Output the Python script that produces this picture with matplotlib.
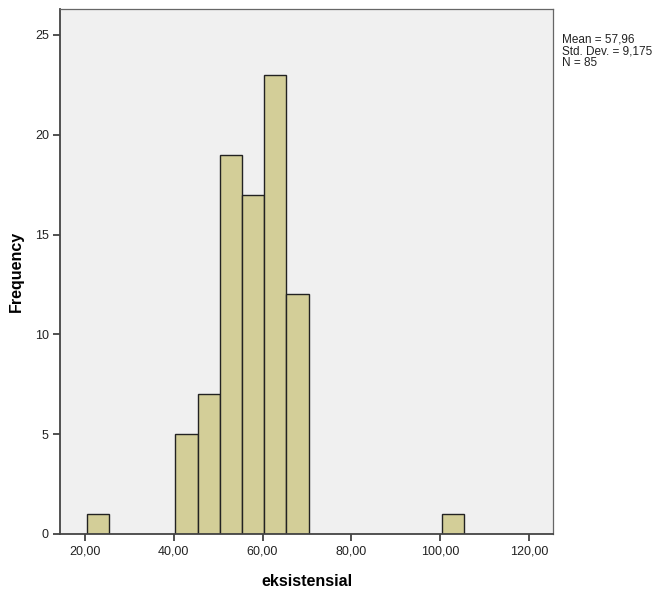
import matplotlib.pyplot as plt
import numpy as np

plt.rcParams['font.family'] = ['Liberation Sans', 'DejaVu Sans']

# histogram bins (left edges) and counts, bin width 5
bin_left = [20.4, 25.4, 30.4, 35.4, 40.4, 45.4, 50.4, 55.4, 60.4, 65.4,
            70.4, 75.4, 80.4, 85.4, 90.4, 95.4, 100.4]
counts = [1, 0, 0, 0, 5, 7, 19, 17, 23, 12, 0, 0, 0, 0, 0, 0, 1]
bin_w = 5

x_ticks = [20, 40, 60, 80, 100, 120]
x_labels = ['20,00', '40,00', '60,00', '80,00', '100,00', '120,00']
y_ticks = [0, 5, 10, 15, 20, 25]

stats = "Mean = 57,96\nStd. Dev. = 9,175\nN = 85"

fig = plt.figure(figsize=(6.63, 5.89), dpi=100)
ax = fig.add_axes([0.0905, 0.0934, 0.7435, 0.8913])
ax.set_facecolor('#f0f0f0')

left = [l for l, c in zip(bin_left, counts) if c > 0]
h = [c for c in counts if c > 0]
ax.bar(left, h, width=bin_w, align='edge', color='#d3ce98',
       edgecolor='#222222', linewidth=1.0)

ax.set_xlim(14.4, 125.4)
ax.set_ylim(0, 26.3)
ax.set_xticks(x_ticks)
ax.set_xticklabels(x_labels)
ax.set_yticks(y_ticks)
ax.tick_params(direction='out', length=5, width=1.2, color='#333333',
               labelsize=9, labelcolor='#222222', pad=3)

for s in ['left', 'bottom']:
    ax.spines[s].set_color('#444444')
    ax.spines[s].set_linewidth(1.3)
for s in ['top', 'right']:
    ax.spines[s].set_color('#666666')
    ax.spines[s].set_linewidth(0.9)

ax.set_xlabel('eksistensial', fontsize=11.5, fontweight='bold', labelpad=12)
ax.set_ylabel('Frequency', fontsize=11.5, fontweight='bold', labelpad=8)

fig.text(562 / 663, 1 - 34 / 589, stats, fontsize=8.5, va='top', ha='left',
         linespacing=0.95, color='#222222')

fig.savefig('out.png', dpi=100)
